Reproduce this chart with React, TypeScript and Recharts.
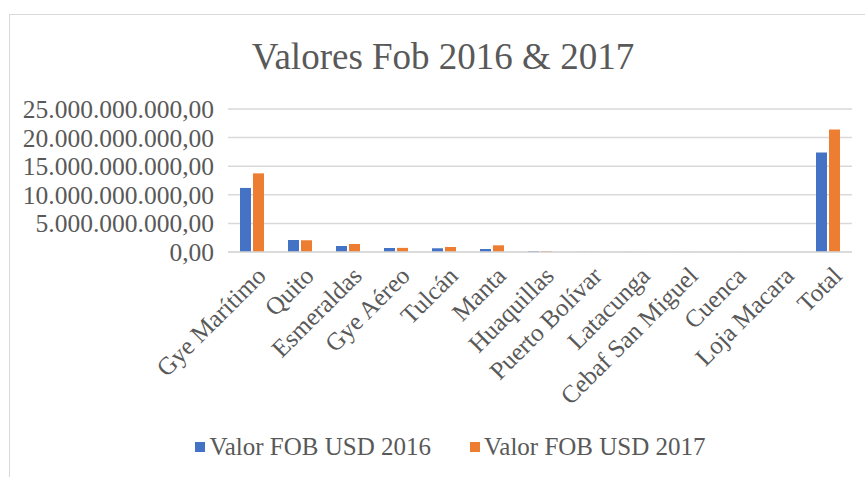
import React from "react";
import { BarChart, Bar, XAxis, YAxis, CartesianGrid, Legend } from "recharts";

const categories = [
  "Gye Marítimo",
  "Quito",
  "Esmeraldas",
  "Gye Aéreo",
  "Tulcán",
  "Manta",
  "Huaquillas",
  "Puerto Bolívar",
  "Latacunga",
  "Cebaf San Miguel",
  "Cuenca",
  "Loja Macara",
  "Total",
];
const fob2016 = [
  11200000000, 2100000000, 1050000000, 700000000, 650000000, 520000000, 170000000,
  30000000, 15000000, 10000000, 8000000, 5000000, 17400000000,
];
const fob2017 = [
  13750000000, 2050000000, 1400000000, 720000000, 870000000, 1170000000, 170000000,
  35000000, 18000000, 12000000, 9000000, 6000000, 21400000000,
];
const yTicks = [0, 5000000000, 10000000000, 15000000000, 20000000000, 25000000000];
const seriesNames = ["Valor FOB USD 2016", "Valor FOB USD 2017"];
const title = "Valores Fob 2016 & 2017";

const data = categories.map((c, i) => ({ name: c, v2016: fob2016[i], v2017: fob2017[i] }));

const FONT = "Liberation Serif";
const TEXT = "#595959";
const BLUE = "#4472C4";
const ORANGE = "#ED7D31";

function fmt(v: number): string {
  const s = Math.round(v).toString();
  const withDots = s.replace(/\B(?=(\d{3})+(?!\d))/g, ".");
  return withDots + ",00";
}

const CatTick = (props: any) => {
  const { x, y, payload } = props;
  return (
    <g transform={`translate(${x + 4},${y + 6})`}>
      <text
        x={0}
        y={0}
        dy={16}
        textAnchor="end"
        transform="rotate(-45)"
        fill={TEXT}
        fontFamily={FONT}
        fontSize={25}
      >
        {payload.value}
      </text>
    </g>
  );
};

const LegendContent = () => {
  const colors = [BLUE, ORANGE];
  return (
    <div
      style={{
        display: "flex",
        justifyContent: "center",
        alignItems: "center",
        height: 30,
        fontFamily: FONT,
        fontSize: 25,
        color: TEXT,
        paddingLeft: 49,
      }}
    >
      {seriesNames.map((n, i) => (
        <div key={n} style={{ display: "flex", alignItems: "center", marginRight: i === 0 ? 39 : 0 }}>
          <span style={{ display: "inline-block", width: 10, height: 10, background: colors[i], marginRight: 4 }} />
          <span>{n}</span>
        </div>
      ))}
    </div>
  );
};

export default function App() {
  return (
    <div style={{ position: "absolute", left: 0, top: 0, width: 865, height: 477, overflow: "hidden", background: "#fff" }}>
      <div
        style={{
          position: "absolute",
          left: 9,
          top: 14,
          width: 900,
          height: 500,
          border: "1px solid #D9D9D9",
          boxSizing: "border-box",
        }}
      />
      <div
        style={{
          position: "absolute",
          left: 0,
          top: 35,
          width: 886,
          textAlign: "center",
          fontFamily: FONT,
          fontSize: 37,
          color: TEXT,
          lineHeight: "44px",
        }}
      >
        {title}
      </div>
      <div style={{ position: "absolute", left: 0, top: 0 }}>
        <BarChart
          width={865}
          height={477}
          data={data}
          margin={{ top: 109, right: 13, bottom: 15, left: 0 }}
          barCategoryGap="25%"
          barGap={2}
        >
          <CartesianGrid vertical={false} stroke="#D9D9D9" strokeWidth={1.5} />
          <XAxis
            dataKey="name"
            interval={0}
            tick={<CatTick />}
            tickLine={false}
            axisLine={{ stroke: "#D9D9D9", strokeWidth: 1.5 }}
            height={180}
          />
          <YAxis
            width={228}
            domain={[0, 25000000000]}
            ticks={yTicks}
            interval={0}
            tickFormatter={fmt}
            tickLine={false}
            axisLine={false}
            tickMargin={8}
            tick={{ fill: TEXT, fontFamily: FONT, fontSize: 25.5 }}
          />
          <Legend verticalAlign="bottom" content={<LegendContent />} />
          <Bar dataKey="v2016" name={seriesNames[0]} fill={BLUE} barSize={11} isAnimationActive={false} />
          <Bar dataKey="v2017" name={seriesNames[1]} fill={ORANGE} barSize={11} isAnimationActive={false} />
        </BarChart>
      </div>
    </div>
  );
}
